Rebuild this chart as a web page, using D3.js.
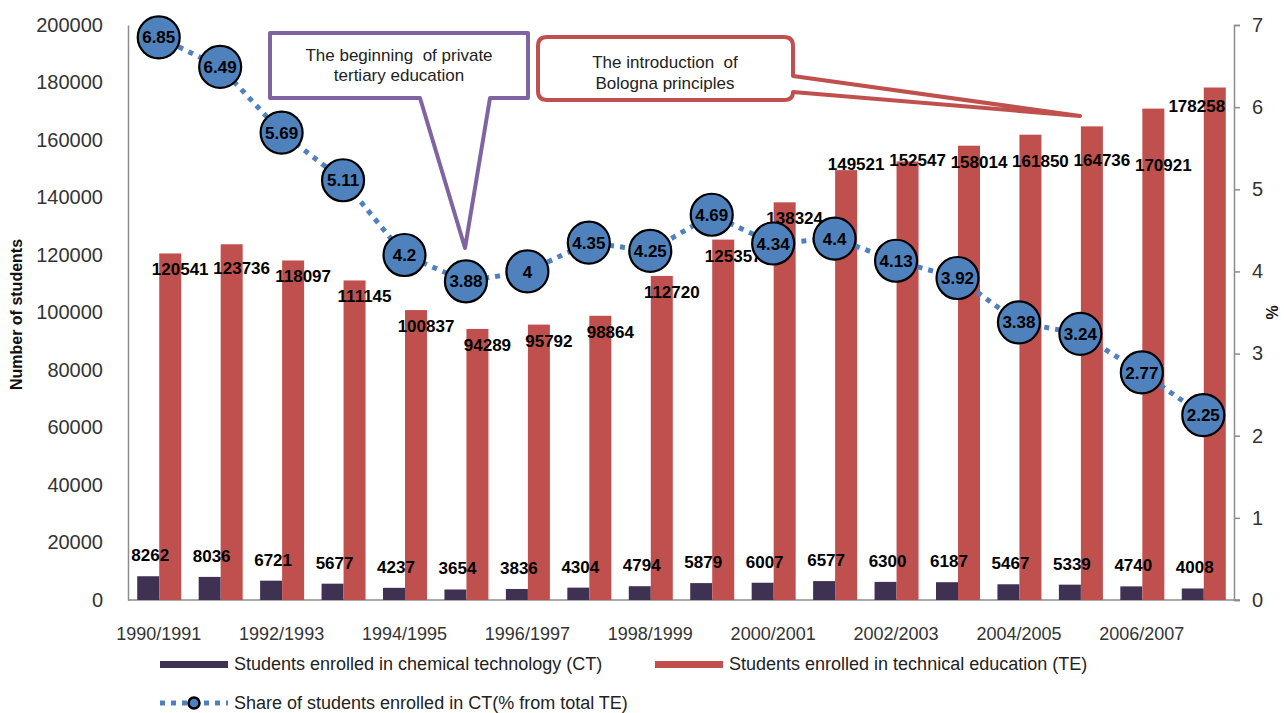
<!DOCTYPE html>
<html>
<head>
<meta charset="utf-8">
<script src="https://cdn.jsdelivr.net/npm/d3@7/dist/d3.min.js"></script>
<style>
  html, body { margin: 0; padding: 0; background: #fff; }
  svg { display: block; font-family: "Liberation Sans", Arial, sans-serif; }
</style>
</head>
<body>
<svg id="chart" width="1284" height="713"></svg>
<script>
// ---------- DATA ----------
const categories = ["1990/1991","1991/1992","1992/1993","1993/1994","1994/1995","1995/1996",
  "1996/1997","1997/1998","1998/1999","1999/2000","2000/2001","2001/2002","2002/2003",
  "2003/2004","2004/2005","2005/2006","2006/2007","2007/2008"];
const ctValues = [8262, 8036, 6721, 5677, 4237, 3654, 3836, 4304, 4794, 5879, 6007, 6577, 6300, 6187, 5467, 5339, 4740, 4008];
const teValues = [120541, 123736, 118097, 111145, 100837, 94289, 95792, 98864, 112720, 125357, 138324, 149521, 152547, 158014, 161850, 164736, 170921, 178258];
const shareValues = [6.85, 6.49, 5.69, 5.11, 4.2, 3.88, 4, 4.35, 4.25, 4.69, 4.34, 4.4, 4.13, 3.92, 3.38, 3.24, 2.77, 2.25];
const leftTicks = [0, 20000, 40000, 60000, 80000, 100000, 120000, 140000, 160000, 180000, 200000];
const rightTicks = [0, 1, 2, 3, 4, 5, 6, 7];
const xTickLabels = categories.filter((d, i) => i % 2 === 0);
const seriesNames = {
  ct: "Students enrolled in chemical technology (CT)",
  te: "Students enrolled in technical education (TE)",
  share: "Share of students enrolled in CT(% from total TE)"
};
const callout1 = ["The beginning  of private", "tertiary education"];
const callout2 = ["The introduction  of", "Bologna principles"];

// ---------- LAYOUT / STYLE ----------
const colCT = "#3F3151", colTE = "#C0504D", colShare = "#4F81BD";
const plot = { left: 128, right: 1234, top: 25, bottom: 600 };
// manual label nudges (pixel offsets) for TE labels that were moved in the original
const teNudge = { 1: [0, 8], 11: [0, -22], 12: [0, -17], 14: [0, 10], 15: [0, 18], 16: [0, 40], 17: [-28, 3] };

const svg = d3.select("#chart");

const x = d3.scaleBand().domain(categories).range([plot.left, plot.right]).paddingInner(0).paddingOuter(0);
const groupW = 44;
const xSub = d3.scaleBand().domain(["ct", "te"]).range([0, groupW]);
const groupOff = (x.bandwidth() - groupW) / 2 + 0.5;
const yL = d3.scaleLinear().domain([0, 200000]).range([plot.bottom, plot.top]);
const yR = d3.scaleLinear().domain([0, 7]).range([plot.bottom, plot.top]);

// ---------- AXES ----------
const gL = svg.append("g").attr("transform", `translate(${plot.left},0)`)
  .call(d3.axisLeft(yL).tickValues(leftTicks).tickSize(0).tickPadding(25).tickFormat(d3.format("d")));
gL.select(".domain").attr("stroke", "#8c8c8c").attr("stroke-width", 1.5);
gL.selectAll("text").attr("font-size", 20).attr("fill", "#333").attr("font-family", "Liberation Sans, Arial, sans-serif");

const gR = svg.append("g").attr("transform", `translate(${plot.right},0)`)
  .call(d3.axisRight(yR).tickValues(rightTicks).tickSize(6).tickPadding(12).tickSizeOuter(6).tickFormat(d3.format("d")));
gR.select(".domain").attr("stroke", "#8c8c8c").attr("stroke-width", 1.5);
gR.selectAll(".tick line").attr("stroke", "#8c8c8c").attr("stroke-width", 1.5);
gR.selectAll("text").attr("font-size", 20).attr("fill", "#333").attr("font-family", "Liberation Sans, Arial, sans-serif");

const gX = svg.append("g").attr("transform", `translate(0,${plot.bottom})`)
  .call(d3.axisBottom(x).tickValues(xTickLabels).tickSize(0).tickPadding(27).tickSizeOuter(0));
gX.select(".domain").remove();
gX.selectAll("text").attr("font-size", 18).attr("fill", "#333").attr("font-family", "Liberation Sans, Arial, sans-serif");
svg.append("line").attr("x1", plot.left).attr("x2", plot.right + 6)
  .attr("y1", plot.bottom).attr("y2", plot.bottom).attr("stroke", "#8c8c8c").attr("stroke-width", 1.5);

// axis titles
svg.append("text").attr("transform", `translate(22,${(plot.top + plot.bottom) / 2 + 2}) rotate(-90)`)
  .attr("text-anchor", "middle").attr("font-size", 16).attr("font-weight", "bold").attr("fill", "#111")
  .text("Number of students");
svg.append("text").attr("transform", `translate(1278,${(plot.top + plot.bottom) / 2}) rotate(-90)`)
  .attr("text-anchor", "middle").attr("font-size", 16).attr("font-weight", "bold").attr("fill", "#111")
  .text("%");

// ---------- BARS ----------
const bars = svg.append("g");
bars.selectAll("rect.ct").data(ctValues).join("rect").attr("class", "ct")
  .attr("x", (d, i) => x(categories[i]) + groupOff + xSub("ct"))
  .attr("width", xSub.bandwidth())
  .attr("y", d => yL(d)).attr("height", d => yL(0) - yL(d)).attr("fill", colCT);
bars.selectAll("rect.te").data(teValues).join("rect").attr("class", "te")
  .attr("x", (d, i) => x(categories[i]) + groupOff + xSub("te"))
  .attr("width", xSub.bandwidth())
  .attr("y", d => yL(d)).attr("height", d => yL(0) - yL(d)).attr("fill", colTE);

// bar labels
const labelFont = { size: 17, weight: "bold" };
svg.append("g").selectAll("text").data(ctValues).join("text")
  .attr("x", (d, i) => x(categories[i]) + groupOff + xSub("ct") + xSub.bandwidth() / 2 + 2)
  .attr("y", d => yL(d) - 21)
  .attr("dy", "0.35em").attr("text-anchor", "middle")
  .attr("font-size", labelFont.size).attr("font-weight", labelFont.weight).attr("fill", "#000")
  .text(d => d);
svg.append("g").selectAll("text").data(teValues).join("text")
  .attr("x", (d, i) => x(categories[i]) + groupOff + xSub("te") + xSub.bandwidth() / 2 + 10 + (teNudge[i] ? teNudge[i][0] : 0))
  .attr("y", (d, i) => yL(d) + 16 + (teNudge[i] ? teNudge[i][1] : 0))
  .attr("dy", "0.35em").attr("text-anchor", "middle")
  .attr("font-size", labelFont.size).attr("font-weight", labelFont.weight).attr("fill", "#000")
  .text(d => d);

// ---------- SHARE LINE ----------
const cx = (i) => x(categories[i]) + x.bandwidth() / 2;
const line = d3.line().x((d, i) => cx(i)).y(d => yR(d));
svg.append("path").datum(shareValues).attr("d", line)
  .attr("fill", "none").attr("stroke", colShare).attr("stroke-width", 5).attr("stroke-dasharray", "5,6");
const pts = svg.append("g").selectAll("g").data(shareValues).join("g")
  .attr("transform", (d, i) => `translate(${cx(i)},${yR(d)})`);
pts.append("circle").attr("r", 21).attr("fill", colShare).attr("stroke", "#000").attr("stroke-width", 2.2);
pts.append("text").attr("text-anchor", "middle").attr("dy", "0.36em")
  .attr("font-size", 17).attr("font-weight", "bold").attr("fill", "#000")
  .text(d => d);

// ---------- CALLOUTS ----------
const c1 = svg.append("g");
c1.append("path")
  .attr("d", "M270,33 H528 V98 H490 L465,248 L420,98 H270 Z")
  .attr("fill", "#fff").attr("stroke", "#8064A2").attr("stroke-width", 4).attr("stroke-linejoin", "round");
c1.selectAll("text").data(callout1).join("text")
  .attr("x", 399).attr("y", (d, i) => 61 + i * 20).attr("text-anchor", "middle")
  .attr("font-size", 17).attr("fill", "#222").style("white-space", "pre")
  .text(d => d);

const c2 = svg.append("g");
c2.append("path")
  .attr("d", "M547,37 H784 Q793,37 793,46 V76 L1080,116 L793,92 Q793,100 784,100 H547 Q538,100 538,91 V46 Q538,37 547,37 Z")
  .attr("fill", "#fff").attr("stroke", "#C0504D").attr("stroke-width", 4).attr("stroke-linejoin", "round");
c2.selectAll("text").data(callout2).join("text")
  .attr("x", 665).attr("y", (d, i) => 68 + i * 21).attr("text-anchor", "middle")
  .attr("font-size", 17).attr("fill", "#222").style("white-space", "pre")
  .text(d => d);

// ---------- LEGEND ----------
const lg = svg.append("g").attr("font-size", 18).attr("fill", "#222");
lg.append("rect").attr("x", 160).attr("y", 661).attr("width", 68).attr("height", 7).attr("fill", colCT);
lg.append("text").attr("x", 234).attr("y", 670).text(seriesNames.ct);
lg.append("rect").attr("x", 655).attr("y", 661).attr("width", 68).attr("height", 7).attr("fill", colTE);
lg.append("text").attr("x", 729).attr("y", 670).text(seriesNames.te);
lg.append("line").attr("x1", 160).attr("x2", 228).attr("y1", 703).attr("y2", 703)
  .attr("stroke", colShare).attr("stroke-width", 5).attr("stroke-dasharray", "5,6");
lg.append("circle").attr("cx", 194).attr("cy", 703).attr("r", 5.5).attr("fill", colShare)
  .attr("stroke", "#000").attr("stroke-width", 2.5);
lg.append("text").attr("x", 234).attr("y", 709).text(seriesNames.share);
</script>
</body>
</html>
